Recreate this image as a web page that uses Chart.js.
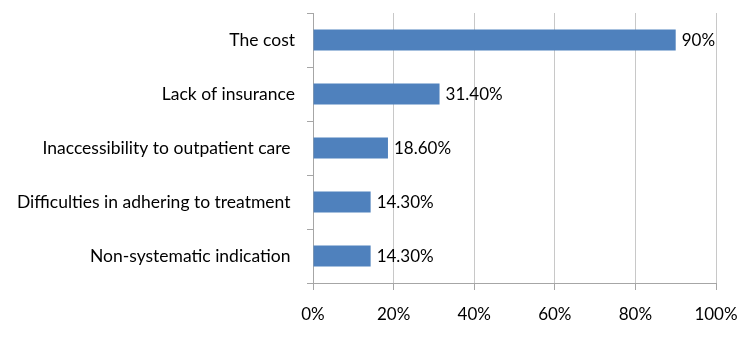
<!DOCTYPE html>
<html>
<head>
<meta charset="utf-8">
<script src="https://cdn.jsdelivr.net/npm/chart.js@4"></script>
<style>
  html, body { margin: 0; padding: 0; background: #fff; }
  #wrap { width: 750px; height: 337px; }
</style>
</head>
<body>
<div id="wrap"><canvas id="chart"></canvas></div>
<script>
const categories = ['The cost', 'Lack of insurance', 'Inaccessibility to outpatient care ', 'Difficulties in adhering to treatment ', 'Non-systematic indication '];
const values = [90, 31.4, 18.6, 14.3, 14.3];
const valueLabels = ['90%', '31.40%', '18.60%', '14.30%', '14.30%'];
const xTicks = [0, 20, 40, 60, 80, 100];

const FONT = 'Lato, "Open Sans", sans-serif';

// draw value text at end of each bar
const barLabels = {
  id: 'barLabels',
  afterDatasetsDraw(chart) {
    const ctx = chart.ctx;
    const meta = chart.getDatasetMeta(0);
    ctx.save();
    ctx.font = '17px ' + FONT;
    ctx.fillStyle = '#000';
    ctx.textAlign = 'left';
    ctx.textBaseline = 'middle';
    meta.data.forEach((bar, i) => {
      ctx.fillText(valueLabels[i], bar.x + 6, bar.y + 1);
    });
    ctx.restore();
  }
};

const ctx = document.getElementById('chart').getContext('2d');
const chart = new Chart(ctx, {
  type: 'bar',
  data: {
    labels: categories,
    datasets: [{
      data: values,
      backgroundColor: '#4f81bd',
      borderColor: '#4a7ebb',
      borderWidth: 0,
      barPercentage: 0.39,
      categoryPercentage: 1
    }]
  },
  options: {
    indexAxis: 'y',
    responsive: true,
    maintainAspectRatio: false,
    animation: false,
    layout: { padding: { top: 13, right: 34, left: 0, bottom: 0 } },
    plugins: {
      legend: { display: false },
      tooltip: { enabled: false }
    },
    scales: {
      x: {
        min: 0,
        max: 100,
        afterBuildTicks(scale) {
          scale.ticks = xTicks.map(v => ({ value: v }));
        },
        afterFit(scale) {
          scale.height = 54;
          scale.paddingLeft = 0;
          scale.paddingRight = 0;
        },
        grid: {
          color: '#c8c8c8',
          lineWidth: 1,
          tickLength: 7,
          tickColor: '#a6a6a6'
        },
        border: { color: '#a6a6a6' },
        ticks: {
          color: '#000',
          font: { family: FONT, size: 17 },
          padding: 14,
          callback: v => v + '%'
        }
      },
      y: {
        afterFit(scale) {
          scale.width = 313;
          scale.paddingTop = 0;
          scale.paddingBottom = 0;
        },
        grid: {
          offset: true,
          drawOnChartArea: false,
          tickLength: 6,
          tickColor: '#a6a6a6'
        },
        border: { color: '#a6a6a6' },
        ticks: {
          color: '#000',
          font: { family: FONT, size: 17.5 },
          padding: 12
        }
      }
    }
  },
  plugins: [barLabels]
});
</script>
</body>
</html>
